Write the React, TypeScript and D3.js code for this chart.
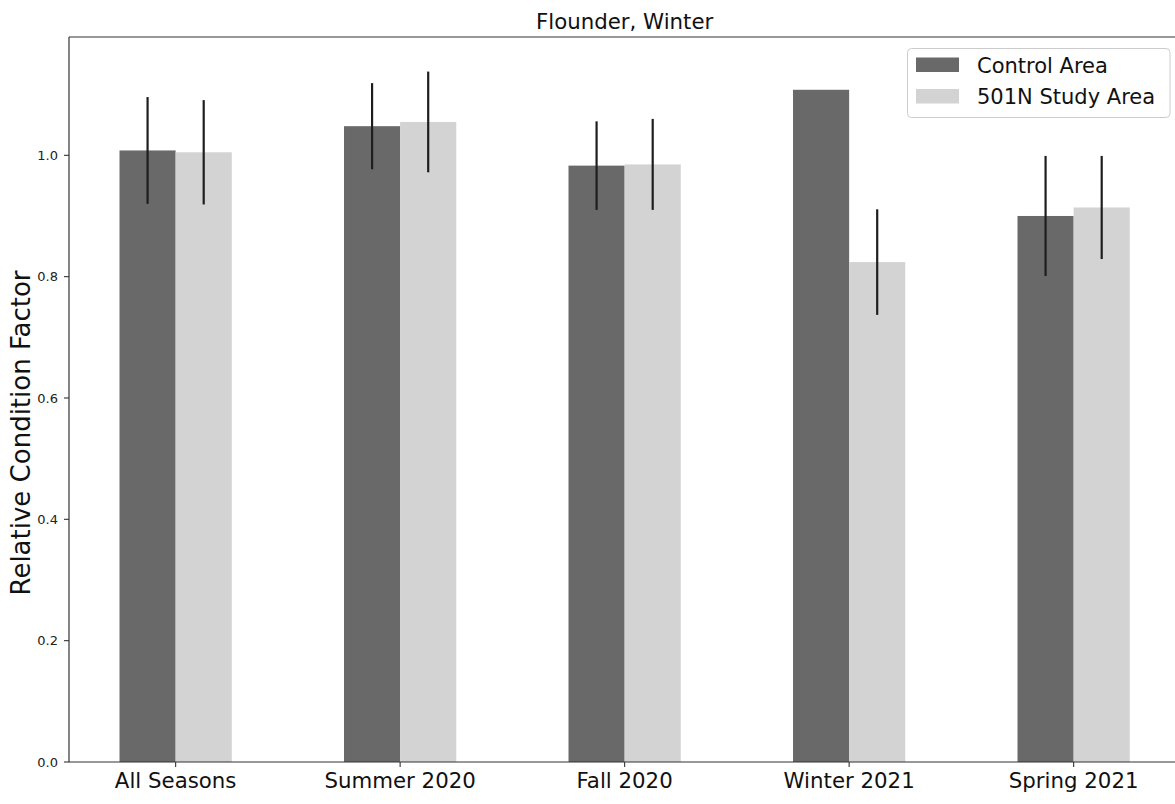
import React from "react";
import * as d3 from "d3";

const categories = ["All Seasons", "Summer 2020", "Fall 2020", "Winter 2021", "Spring 2021"];
const controlValues = [1.008, 1.048, 0.983, 1.108, 0.9];
const controlErrors = [0.088, 0.071, 0.073, NaN, 0.099];
const studyValues = [1.005, 1.055, 0.985, 0.824, 0.914];
const studyErrors = [0.086, 0.083, 0.075, 0.087, 0.085];
const yTicks = [0, 0.2, 0.4, 0.6, 0.8, 1.0];
const seriesNames = ["Control Area", "501N Study Area"];
const seriesColors = ["#696969", "#d3d3d3"];

const W = 1175;
const H = 804;
const FONT = "DejaVu Sans, sans-serif";

export default function App() {
  const left = 69, top = 37, bottom = 762;
  const x = d3.scaleLinear().domain([-0.475, 4.475]).range([left, left + 4.95 * 224.5]);
  const y = d3.scaleLinear().domain([0, 1.195]).range([bottom, top]);
  const right = x(4.475);
  const bw = 0.25;

  const series = [
    { vals: controlValues, errs: controlErrors, off: -bw },
    { vals: studyValues, errs: studyErrors, off: 0 },
  ];

  return (
    <svg width={W} height={H} style={{ position: "absolute", left: 0, top: 0, background: "#fff" }}>
      <rect x={0} y={0} width={W} height={H} fill="#fff" />
      {series.map((s, si) =>
        s.vals.map((v, i) => (
          <rect
            key={`b${si}-${i}`}
            x={x(i + s.off)}
            y={y(v)}
            width={x(i + s.off + bw) - x(i + s.off)}
            height={y(0) - y(v)}
            fill={seriesColors[si]}
          />
        ))
      )}
      {series.map((s, si) =>
        s.vals.map((v, i) =>
          isNaN(s.errs[i]) ? null : (
            <line
              key={`e${si}-${i}`}
              x1={x(i + s.off + bw / 2)}
              x2={x(i + s.off + bw / 2)}
              y1={y(v - s.errs[i])}
              y2={y(v + s.errs[i])}
              stroke="#1e1e1e"
              strokeWidth={2.2}
            />
          )
        )
      )}
      {/* spines */}
      <line x1={left} x2={left} y1={top} y2={bottom} stroke="#333" strokeWidth={1.2} />
      <line x1={left} x2={right} y1={top} y2={top} stroke="#333" strokeWidth={1.2} />
      <line x1={left} x2={right} y1={bottom} y2={bottom} stroke="#333" strokeWidth={1.2} />
      <line x1={right} x2={right} y1={top} y2={bottom} stroke="#333" strokeWidth={1.2} />
      {/* y ticks */}
      {yTicks.map((t) => (
        <g key={`yt${t}`}>
          <line x1={left - 5} x2={left} y1={y(t)} y2={y(t)} stroke="#333" strokeWidth={1.1} />
          <text x={left - 11} y={y(t)} dy="0.36em" textAnchor="end" fontFamily={FONT} fontSize={13} fill="#222">
            {t.toFixed(1)}
          </text>
        </g>
      ))}
      {/* x ticks */}
      {categories.map((c, i) => (
        <g key={`xt${i}`}>
          <line x1={x(i)} x2={x(i)} y1={bottom} y2={bottom + 5} stroke="#333" strokeWidth={1.1} />
          <text x={x(i)} y={788} textAnchor="middle" fontFamily={FONT} fontSize={21.3} fill="#111">
            {c}
          </text>
        </g>
      ))}
      {/* y label */}
      <text
        transform={`translate(30, 433) rotate(-90)`}
        textAnchor="middle"
        fontFamily={FONT}
        fontSize={26}
        fill="#111"
      >
        Relative Condition Factor
      </text>
      {/* title */}
      <text x={(left + right) / 2} y={29} textAnchor="middle" fontFamily={FONT} fontSize={21.3} fill="#111">
        Flounder, Winter
      </text>
      {/* legend */}
      <rect x={907.5} y={48.5} width={262.5} height={69} rx={4} fill="#fff" fillOpacity={0.8} stroke="#ccc" strokeWidth={1} />
      {seriesNames.map((n, i) => (
        <g key={`lg${i}`}>
          <rect x={916} y={57.5 + i * 31.5} width={43} height={14.5} fill={seriesColors[i]} />
          <text x={977} y={72.5 + i * 31} fontFamily={FONT} fontSize={21} fill="#111">
            {n}
          </text>
        </g>
      ))}
    </svg>
  );
}
